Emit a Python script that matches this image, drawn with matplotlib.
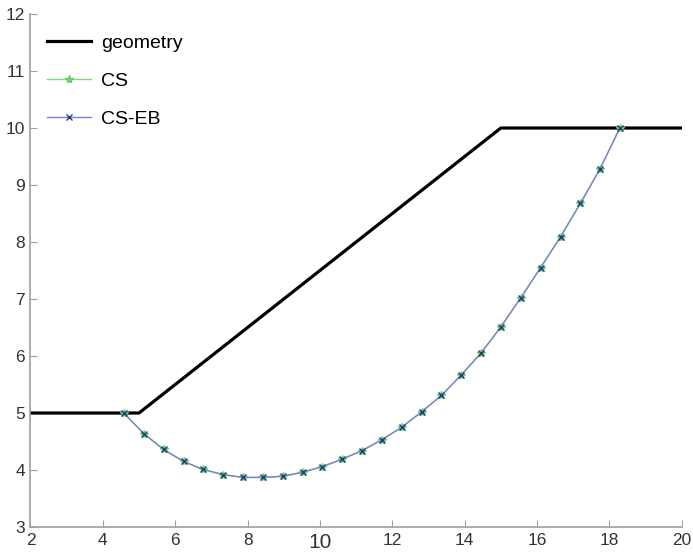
import matplotlib.pyplot as plt

plt.rcParams['font.family'] = ['Liberation Sans', 'DejaVu Sans']

# slope geometry
geo_x = [2, 5, 15, 20]
geo_y = [5, 5, 10, 10]

# slip surface points (CS and CS-EB coincide)
slip_x = [4.58, 5.13, 5.68, 6.23, 6.77, 7.32, 7.87, 8.42, 8.97, 9.52,
          10.07, 10.61, 11.16, 11.71, 12.26, 12.81, 13.36, 13.91, 14.45, 15.00,
          15.55, 16.10, 16.65, 17.20, 17.74, 18.29]
cs_y = [5.00, 4.64, 4.36, 4.15, 4.01, 3.92, 3.87, 3.87, 3.89, 3.96,
        4.06, 4.19, 4.34, 4.53, 4.75, 5.02, 5.31, 5.67, 6.05, 6.51,
        7.02, 7.55, 8.09, 8.68, 9.28, 10.00]
cseb_y = list(cs_y)

x_ticks = list(range(2, 21, 2))
y_ticks = list(range(3, 13))

fig = plt.figure(figsize=(6.93, 5.54), dpi=100)
ax = fig.add_axes([0.044, 0.0487, 0.9397, 0.926])

ax.plot(geo_x, geo_y, color='black', lw=2.3, label='geometry')
ax.plot(slip_x, cs_y, color='#77dd77', lw=1, marker='*', ms=6,
        mec='#66cc66', label='CS')
ax.plot(slip_x, cseb_y, color='#7f80cc', lw=1, marker='x', ms=4,
        mec='#1f3f7f', mew=1, label='CS-EB')

ax.set_xlim(2, 20)
ax.set_ylim(3, 12)
ax.set_xticks(x_ticks)
ax.set_yticks(y_ticks)

for s in ['top', 'right']:
    ax.spines[s].set_visible(False)
for s in ['left', 'bottom']:
    ax.spines[s].set_color('#a0a0a0')
    ax.spines[s].set_linewidth(1.2)
ax.tick_params(direction='in', length=5, color='#a0a0a0', labelsize=12.5,
               labelcolor='#333333', pad=4)
for lbl in ax.get_xticklabels():
    if lbl.get_text() == '10':
        lbl.set_fontsize(15)

leg = ax.legend(loc='upper left', bbox_to_anchor=(0.0, 0.993), frameon=False,
                fontsize=14, handlelength=2.26, labelspacing=1.05,
                handletextpad=0.5, borderaxespad=0.45)

plt.savefig('out.png', dpi=100)
